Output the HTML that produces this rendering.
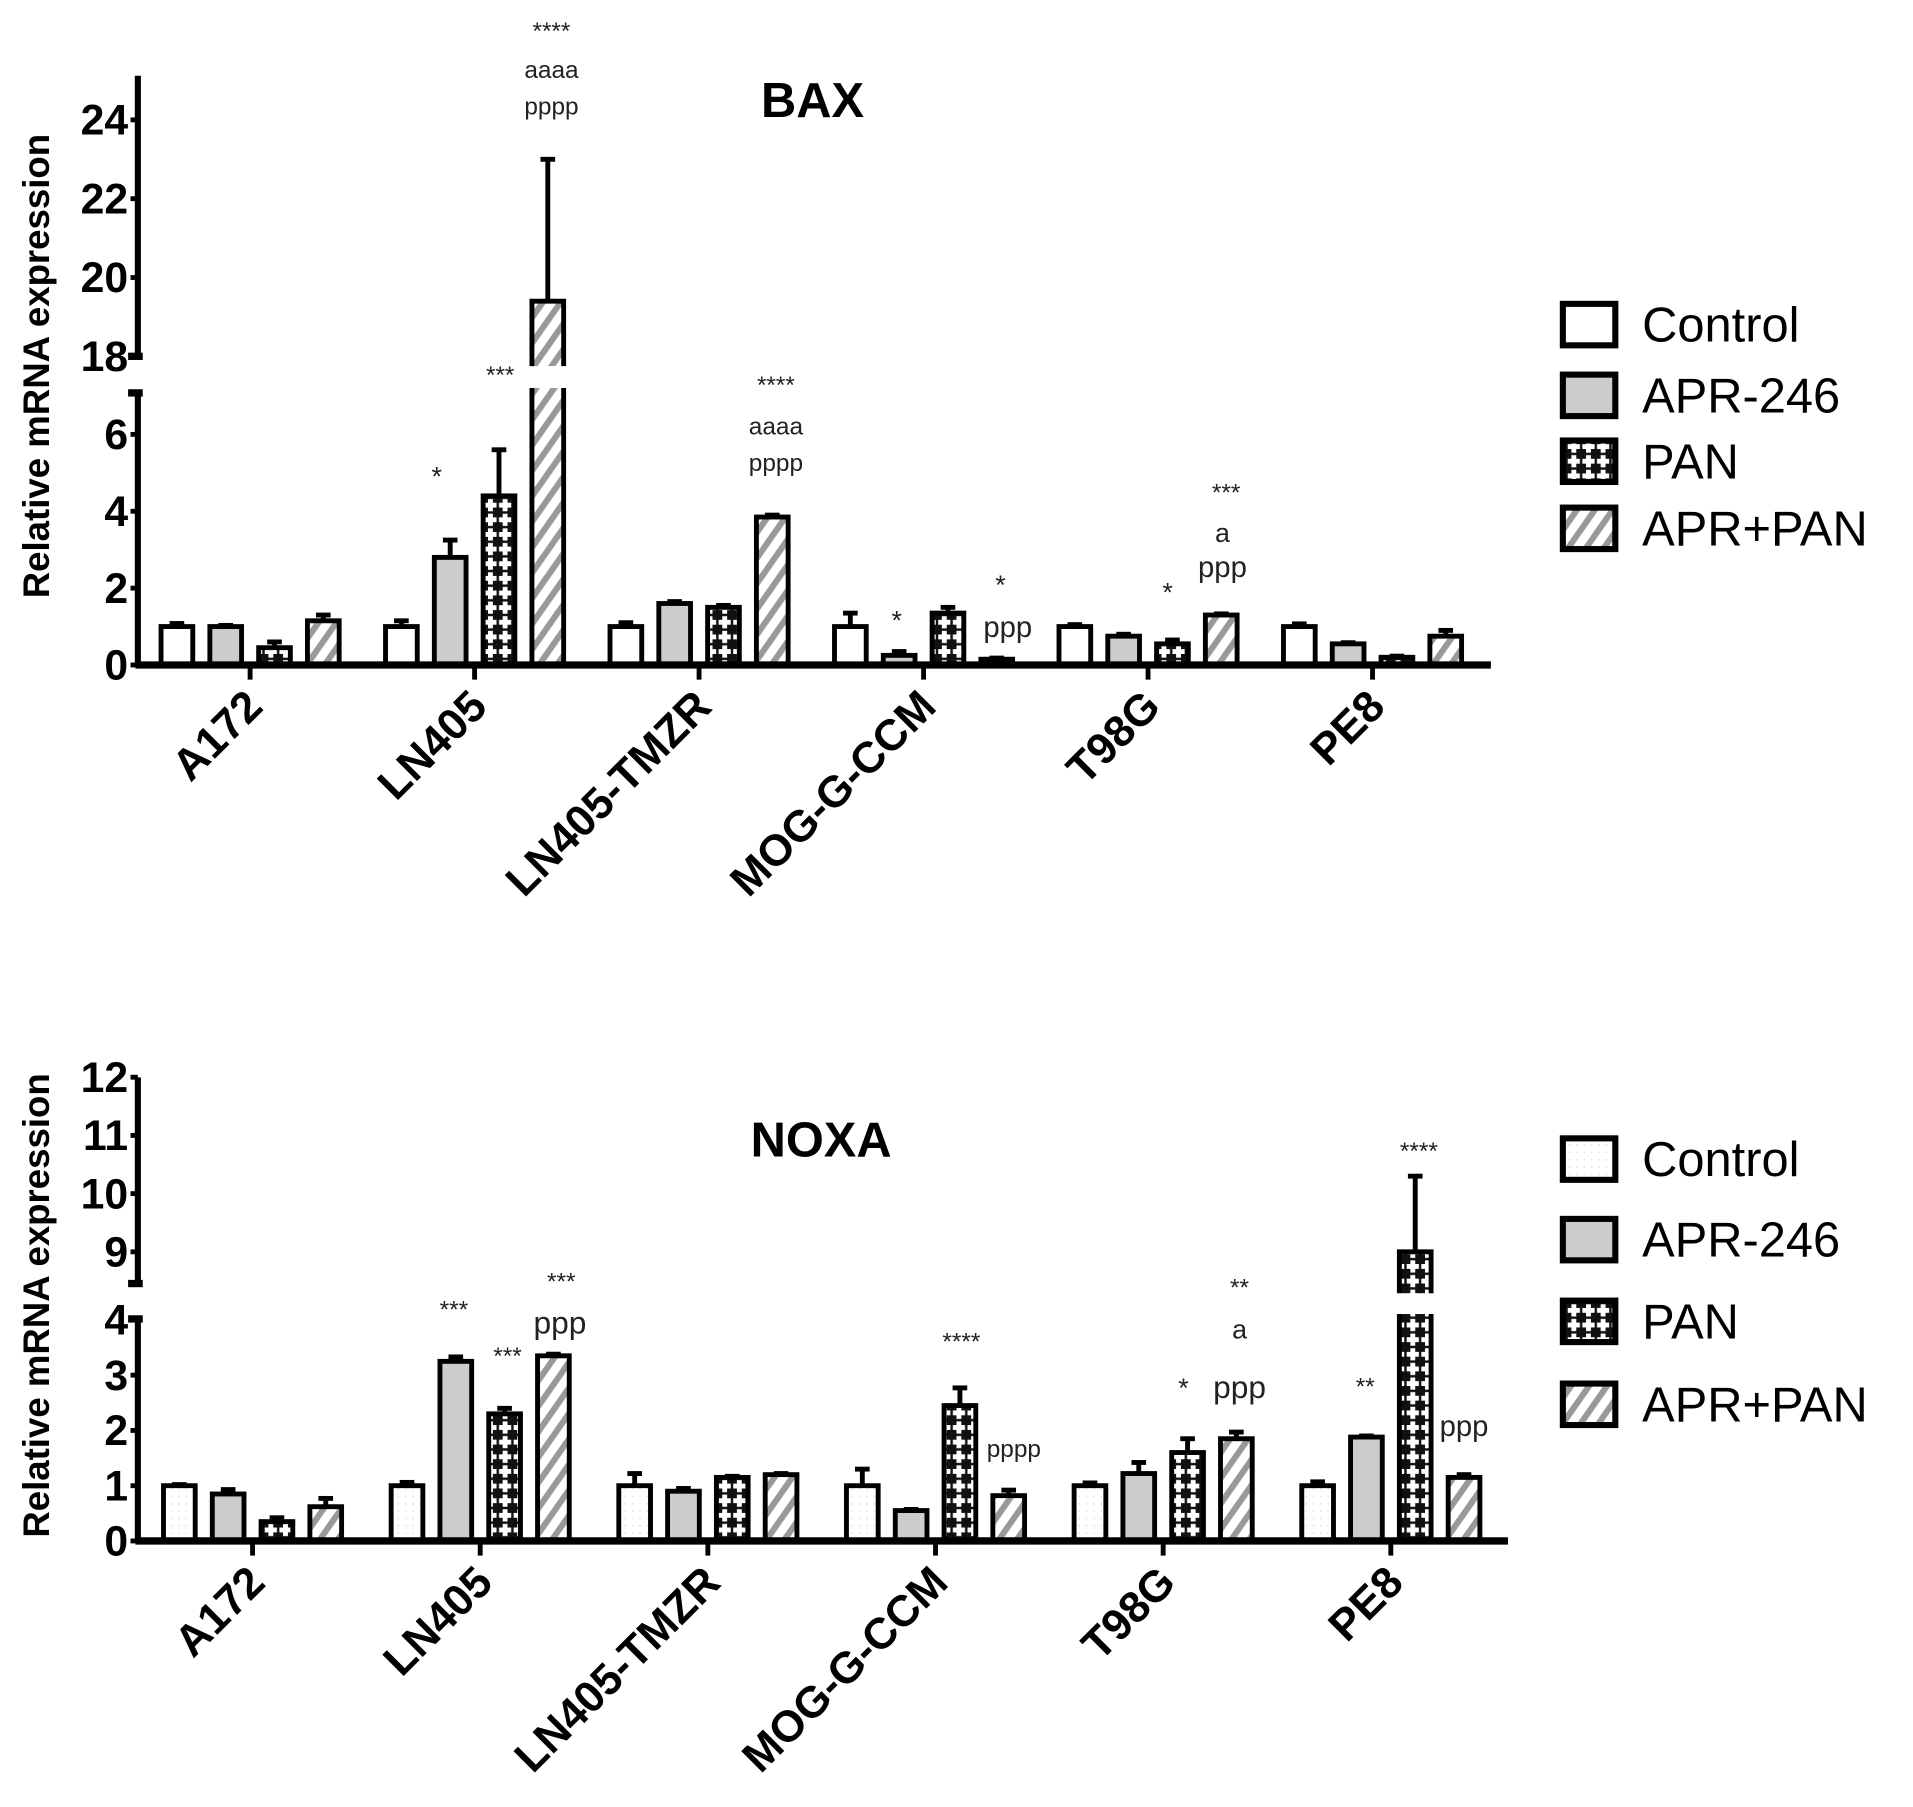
<!DOCTYPE html>
<html><head><meta charset="utf-8"><style>
html,body{margin:0;padding:0;background:#fff}
svg{display:block}
text{font-family:"Liberation Sans",Arial,sans-serif}
</style></head><body>
<svg id="fig" width="1913" height="1807" viewBox="0 0 1568 1481" xmlns="http://www.w3.org/2000/svg">
<defs>
<pattern id="pan" patternUnits="userSpaceOnUse" width="12" height="12">
<rect width="12" height="12" fill="#111"/>
<rect x="4" y="1" width="4" height="10" fill="#fff"/>
<rect x="1" y="4" width="10" height="4" fill="#fff"/>
</pattern>
<pattern id="stripe" patternUnits="userSpaceOnUse" width="12" height="12" patternTransform="rotate(35)">
<rect width="12" height="12" fill="#fff"/>
<rect width="5" height="12" fill="#999"/>
</pattern>
<pattern id="dots" patternUnits="userSpaceOnUse" width="6" height="6">
<rect width="6" height="6" fill="#fff"/>
<rect x="2" y="2" width="1.2" height="1.2" fill="#ddd"/>
</pattern>
</defs>
<g id="bax"></g>
<g id="noxa"></g>
</svg>
<script>
const categories = ["A172","LN405","LN405-TMZR","MOG-G-CCM","T98G","PE8"];
const seriesNames = ["Control","APR-246","PAN","APR+PAN"];
const baxControl = [1.0,1.0,1.0,1.0,1.0,1.0];
const baxAPR = [1.0,2.8,1.6,0.25,0.75,0.55];
const baxPAN = [0.45,4.4,1.5,1.35,0.55,0.2];
const baxCombo = [1.15,19.4,3.85,0.15,1.3,0.75];
const baxControlErr = [0.08,0.15,0.1,0.35,0.05,0.07];
const baxAPRErr = [0.03,0.45,0.05,0.1,0.05,0.03];
const baxPANErr = [0.15,1.2,0.05,0.15,0.1,0.03];
const baxComboErr = [0.15,3.6,0.05,0.03,0.03,0.15];
const baxLowTicks = [0,2,4,6];
const baxHighTicks = [18,20,22,24];
const noxaControl = [1.0,1.0,1.0,1.0,1.0,1.0];
const noxaAPR = [0.85,3.25,0.9,0.55,1.22,1.88];
const noxaPAN = [0.35,2.3,1.15,2.45,1.6,9.0];
const noxaCombo = [0.62,3.35,1.2,0.82,1.85,1.15];
const noxaControlErr = [0.02,0.06,0.22,0.3,0.05,0.07];
const noxaAPRErr = [0.08,0.08,0.05,0.02,0.2,0.02];
const noxaPANErr = [0.07,0.1,0.02,0.32,0.25,1.3];
const noxaComboErr = [0.15,0.03,0.02,0.1,0.12,0.05];
const noxaLowTicks = [0,1,2,3,4];
const noxaHighTicks = [9,10,11,12];

const NS="http://www.w3.org/2000/svg";
function mk(parent,tag,attrs,txt){const e=document.createElementNS(NS,tag);for(const k in attrs)e.setAttribute(k,attrs[k]);if(txt!==undefined)e.textContent=txt;parent.appendChild(e);return e;}

function drawChart(g,cfg){
  const y=v=> v<=cfg.lowMax ? cfg.y0-(v)*cfg.lowPx : cfg.hiY0-(v-cfg.hiMin)*cfg.hiPx;
  const xt=i=>cfg.x0+i*cfg.step;
  const offs=[-60,-20,20,60], fills=[cfg.ctrlFill,"#ccc","url(#pan)","url(#stripe)"];
  const series=[cfg.s0,cfg.s1,cfg.s2,cfg.s3], errs=[cfg.e0,cfg.e1,cfg.e2,cfg.e3];
  series.forEach((s,si)=>s.forEach((v,ci)=>{
    const cx=xt(ci)+offs[si], w=26;
    const top=y(v), eTop=y(v+errs[si][ci]);
    const er=mk(g,"line",{x1:cx,x2:cx,y1:top,y2:eTop,stroke:"#000","stroke-width":4});
    
    
    const cap=mk(g,"line",{x1:cx-6,x2:cx+6,y1:eTop,y2:eTop,stroke:"#000","stroke-width":4});
    
    
    const nm='bar-'+seriesNames[si].toLowerCase()+'-'+categories[ci].toLowerCase();
    if(v>cfg.lowMax){
      const x1=cx-w/2,x2=cx+w/2;
      const lowBottom=cfg.y0, lowTop=cfg.lowTopY-4, hiBottom=cfg.hiBreakY+8;
      const f1=mk(g,"rect",{x:x1,y:lowTop,width:w,height:lowBottom-lowTop,fill:fills[si]});
      
      
      const p1=mk(g,"path",{d:`M${x1},${lowTop} V${lowBottom} H${x2} V${lowTop}`,fill:"none",stroke:"#000","stroke-width":4});
      
      
      const f2=mk(g,"rect",{x:x1,y:top,width:w,height:hiBottom-top,fill:fills[si]});
      
      
      const p2=mk(g,"path",{d:`M${x1},${hiBottom} V${top} H${x2} V${hiBottom}`,fill:"none",stroke:"#000","stroke-width":4});
      
      
    } else {
      const r=mk(g,"rect",{x:cx-w/2,y:top,width:w,height:cfg.y0-top,fill:fills[si],stroke:"#000","stroke-width":4});
      
      
    }
  }));
  const xa=mk(g,"line",{x1:cfg.axX-2,x2:cfg.axEnd,y1:cfg.y0,y2:cfg.y0,stroke:"#000","stroke-width":6});
  
  
  const ya1=mk(g,"line",{x1:cfg.axX,x2:cfg.axX,y1:cfg.y0,y2:cfg.lowTopY,stroke:"#000","stroke-width":5});
  
  
  const ya2=mk(g,"line",{x1:cfg.axX,x2:cfg.axX,y1:cfg.hiBreakY,y2:cfg.axTop,stroke:"#000","stroke-width":5});
  
  
  [cfg.lowTopY,cfg.hiBreakY].forEach(yy=>{
    const b=mk(g,"line",{x1:cfg.axX-8,x2:cfg.axX+4,y1:yy,y2:yy,stroke:"#000","stroke-width":6});
    
    
  });
  cfg.lowTicks.concat(cfg.hiTicks).forEach(t=>{
    const yy=y(t);
    const tk=mk(g,"line",{x1:cfg.axX-6,x2:cfg.axX,y1:yy,y2:yy,stroke:"#000","stroke-width":4});
    
    
    const tl=mk(g,"text",{x:cfg.axX-8,y:yy+12,"text-anchor":"end","font-size":35,"font-weight":"bold"},t);
    
    
  });
  categories.forEach((c,i)=>{
    const tk=mk(g,"line",{x1:xt(i),x2:xt(i),y1:cfg.y0,y2:cfg.y0+12,stroke:"#000","stroke-width":4});
    
    
    const tl=mk(g,"text",{x:0,y:0,"text-anchor":"end","font-size":36,"font-weight":"bold",transform:`translate(${xt(i)+12},${cfg.y0+36}) rotate(-45)`},c);
    
    
  });
  const yt=mk(g,"text",{x:0,y:0,"text-anchor":"middle","font-size":30,"font-weight":"bold",transform:`translate(40,${cfg.yTitleY}) rotate(-90)`},"Relative mRNA expression");
  
  
  const ti=mk(g,"text",{x:cfg.titleX,y:cfg.titleY,"text-anchor":"middle","font-size":40,"font-weight":"bold"},cfg.title);
  
  
  cfg.ann.forEach(a=>{
    const t=mk(g,"text",{x:a[0],y:a[1],"text-anchor":"middle","font-size":a[3],fill:"#222"},a[2]);
    
    
  });
  seriesNames.forEach((n,i)=>{
    const yy=cfg.legY[i];
    const f=i===0?cfg.ctrlFill:fills[i];
    const r=mk(g,"rect",{x:1281,y:yy-17,width:43,height:34,fill:f,stroke:"#000","stroke-width":5});
    
    
    const t=mk(g,"text",{x:1346,y:yy+14,"font-size":40},n);
    
    
  });
}

drawChart(document.getElementById('bax'),{
  title:"BAX",titleX:666,titleY:96,yTitleY:300,
  y0:545,lowPx:31.5,lowMax:7.1,lowTopY:322,hiMin:18,hiY0:292,hiPx:32.3,hiBreakY:292,axTop:62,
  axX:113,axEnd:1222,x0:205,step:184,ctrlFill:"#fff",
  s0:baxControl,s1:baxAPR,s2:baxPAN,s3:baxCombo,e0:baxControlErr,e1:baxAPRErr,e2:baxPANErr,e3:baxComboErr,
  lowTicks:baxLowTicks,hiTicks:baxHighTicks,
  ann:[[452,32,"****",20],[452,64,"aaaa",20],[452,94,"pppp",20],[410,314,"***",20],[358,398,"*",22],
       [636,322,"****",20],[636,356,"aaaa",20],[636,386,"pppp",20],[735,516,"*",22],[820,487,"*",22],[826,522,"ppp",24],
       [957,493,"*",22],[1005,410,"***",20],[1002,444,"a",22],[1002,473,"ppp",24]],
  legY:[266,324,378,433]
});
drawChart(document.getElementById('noxa'),{
  title:"NOXA",titleX:673,titleY:948,yTitleY:1070,
  y0:1263,lowPx:45.3,lowMax:4.02,lowTopY:1081,hiMin:9,hiY0:1026,hiPx:47.7,hiBreakY:1052,axTop:883,
  axX:113,axEnd:1236,x0:207,step:186.6,ctrlFill:"url(#dots)",
  s0:noxaControl,s1:noxaAPR,s2:noxaPAN,s3:noxaCombo,e0:noxaControlErr,e1:noxaAPRErr,e2:noxaPANErr,e3:noxaComboErr,
  lowTicks:noxaLowTicks,hiTicks:noxaHighTicks,
  ann:[[372,1080,"***",20],[416,1118,"***",20],[460,1057,"***",20],[459,1093,"ppp",26],
       [788,1106,"****",20],[831,1194,"pppp",20],[970,1145,"*",22],[1016,1062,"**",20],[1016,1097,"a",22],[1016,1146,"ppp",26],
       [1119,1143,"**",20],[1163,950,"****",20],[1200,1177,"ppp",24]],
  legY:[950,1016,1083,1151]
});
</script>
</body></html>
